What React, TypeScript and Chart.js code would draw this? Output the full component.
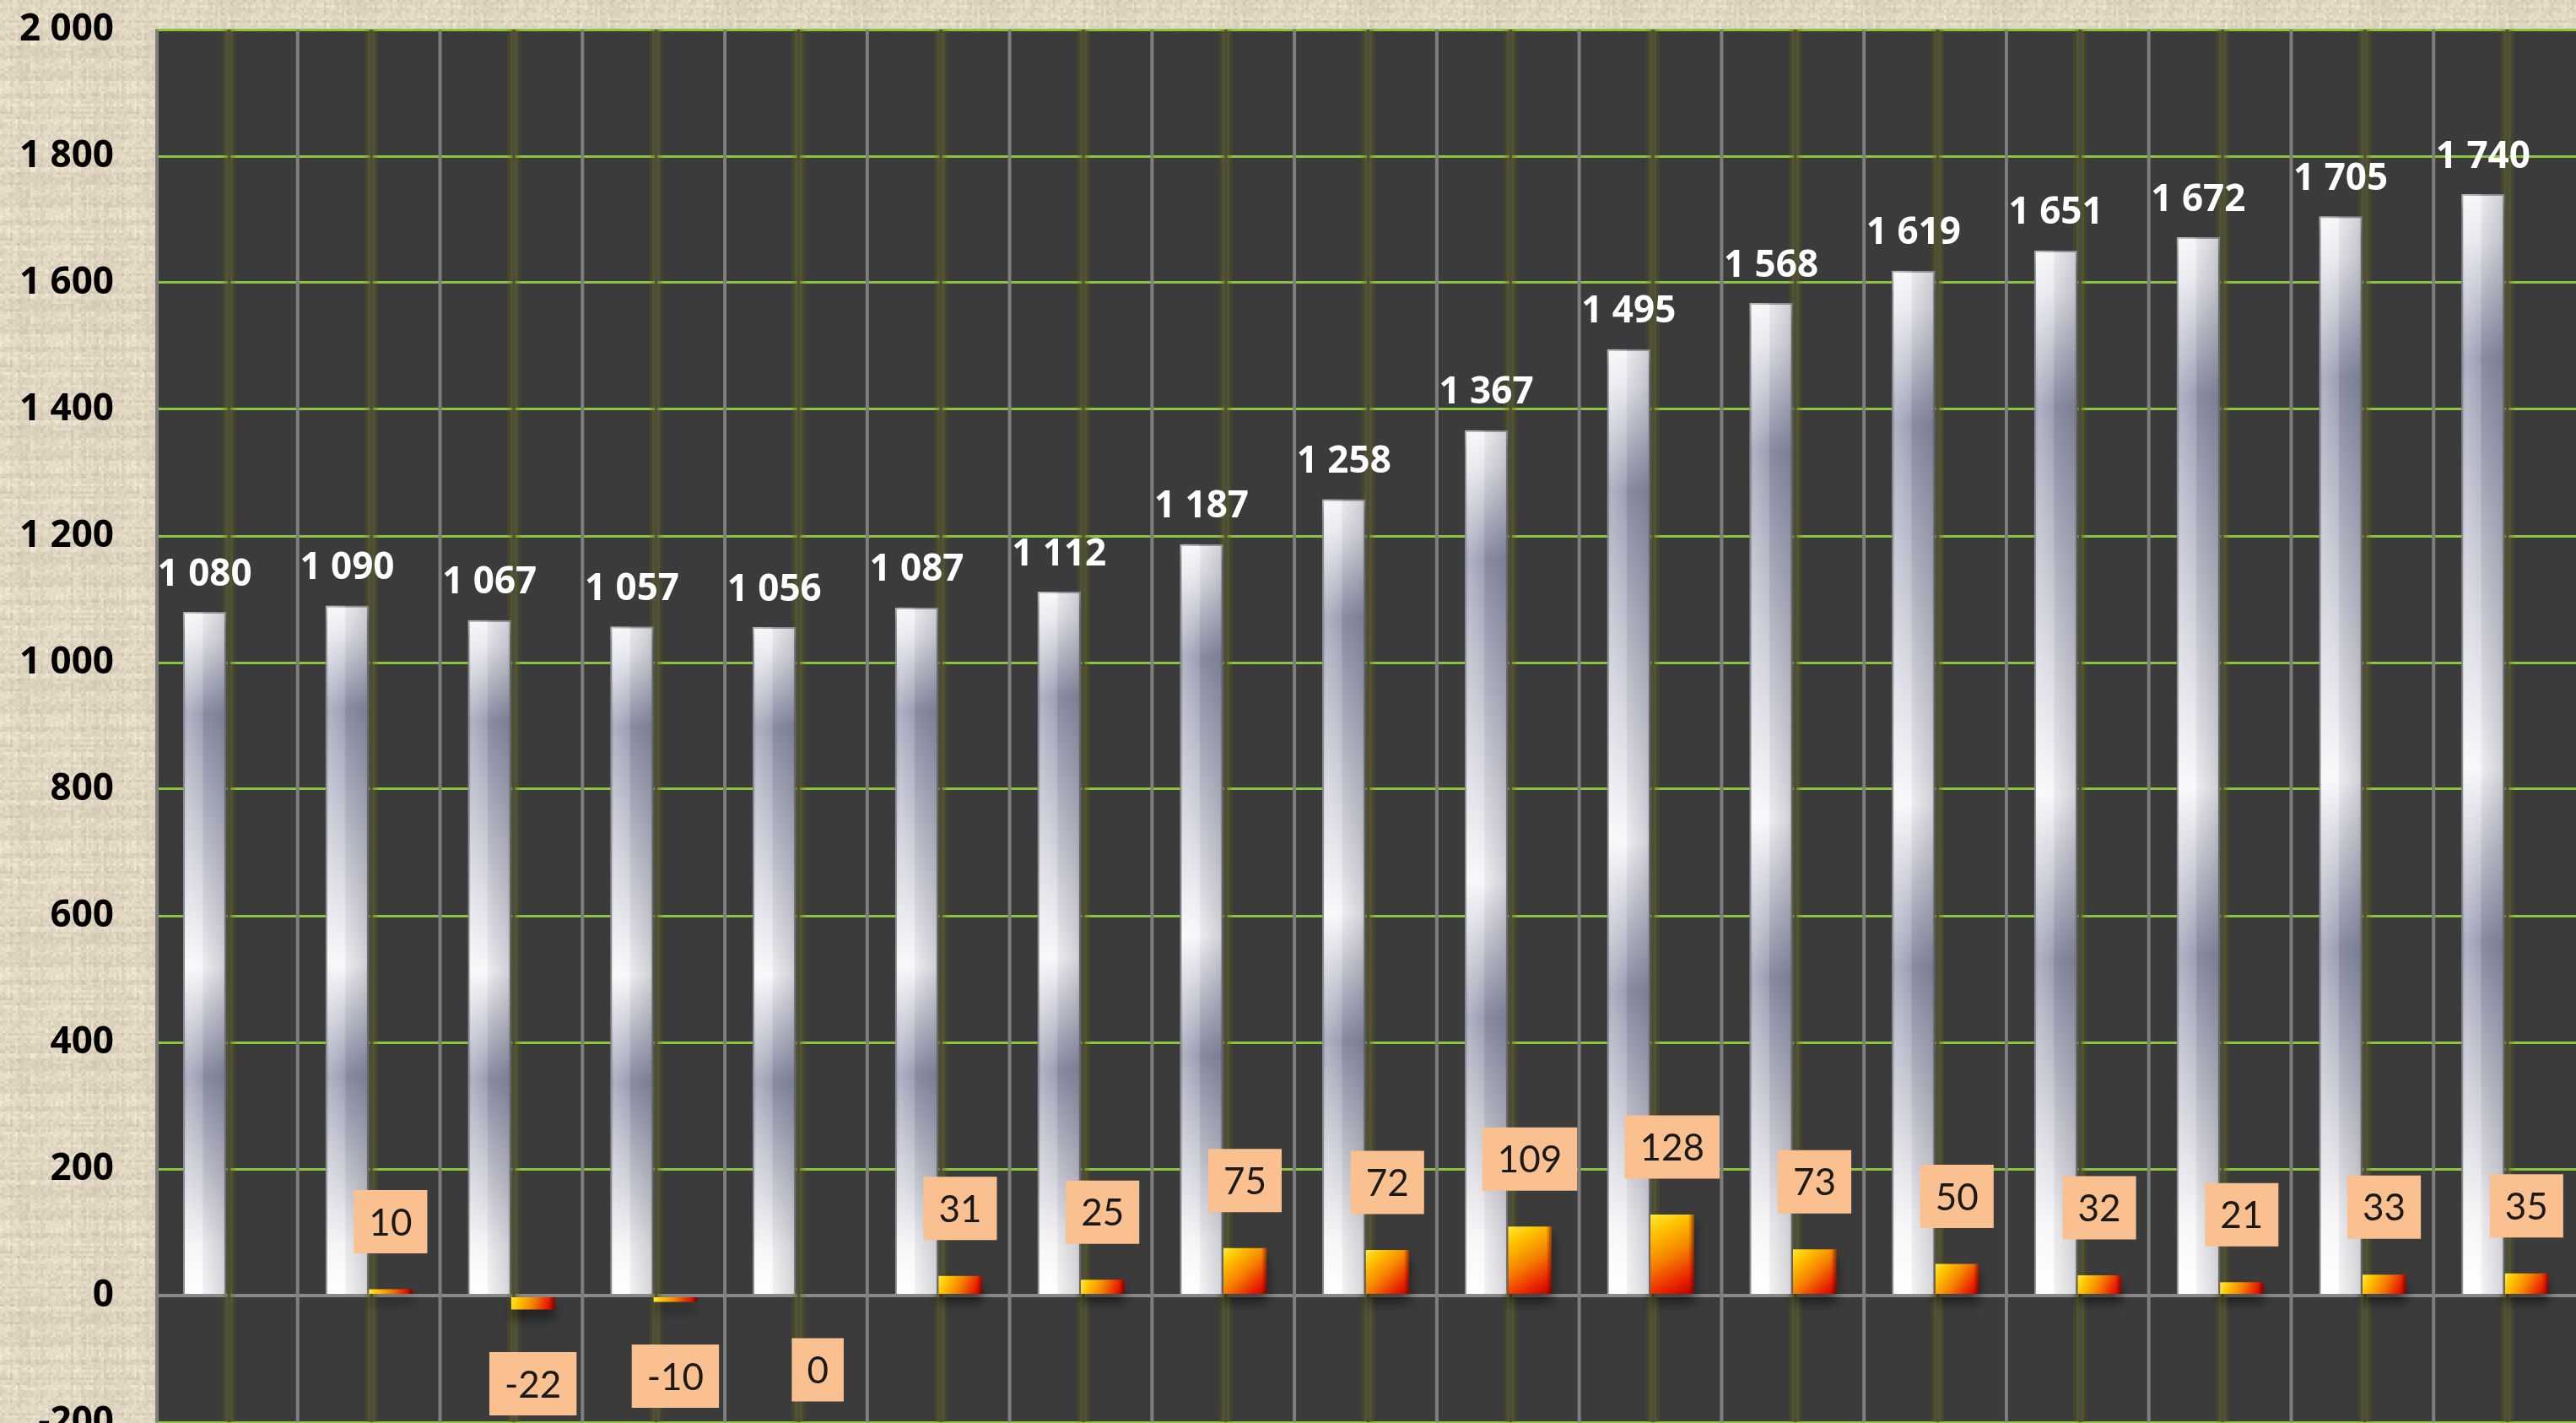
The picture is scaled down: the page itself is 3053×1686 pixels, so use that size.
import React, { useEffect, useRef } from 'react';
import { Chart, registerables } from 'chart.js';

Chart.register(...registerables);

// ---- data ----
const categories = ['1', '2', '3', '4', '5', '6', '7', '8', '9', '10', '11', '12', '13', '14', '15', '16', '17'];
const totals = [1080, 1090, 1067, 1057, 1056, 1087, 1112, 1187, 1258, 1367, 1495, 1568, 1619, 1651, 1672, 1705, 1740];
const changes: (number | null)[] = [null, 10, -22, -10, 0, 31, 25, 75, 72, 109, 128, 73, 50, 32, 21, 33, 35];
const yMin = -200;
const yMax = 2000;
const yStep = 200;

// ---- layout ----
const W = 3053;
const H = 1740;
const VIEW_H = 1686;
const CAT_PCT = 0.61;

const fmt = (v: number) => {
  const s = String(Math.abs(v)).replace(/\B(?=(\d{3})+(?!\d))/g, ' ');
  return v < 0 ? '-' + s : s;
};

let linenCache: HTMLCanvasElement | null = null;
function getLinen(): HTMLCanvasElement {
  if (linenCache) return linenCache;
  const c = document.createElement('canvas');
  c.width = 150;
  c.height = 150;
  const g = c.getContext('2d')!;
  const hash = (x: number, y: number) => {
    const s = Math.sin(x * 127.1 + y * 311.7) * 43758.5453;
    return s - Math.floor(s);
  };
  for (let y = 0; y < 150; y += 3) {
    for (let x = 0; x < 150; x += 3) {
      const v = 0.45 * hash(x, y) + 0.3 * hash(1, y) + 0.25 * hash(x, 1);
      const l = -24 + v * 44;
      g.fillStyle = `rgb(${Math.round(226 + l)},${Math.round(215 + l)},${Math.round(194 + l)})`;
      g.fillRect(x, y, 3, 3);
    }
  }
  linenCache = c;
  return c;
}

const decorPlugin = {
  id: 'decor',
  beforeDraw(chart: any) {
    const { ctx, chartArea: a } = chart;
    ctx.save();
    const pat = ctx.createPattern(getLinen(), 'repeat');
    ctx.fillStyle = pat || '#e0d5bf';
    ctx.fillRect(0, 0, chart.width, chart.height);
    ctx.fillStyle = '#3b3b3b';
    ctx.fillRect(a.left, a.top, a.right - a.left, a.bottom - a.top);
    ctx.restore();
  },
  beforeDatasetsDraw(chart: any) {
    const { ctx, chartArea: a, scales } = chart;
    const xs = scales.x;
    const n = categories.length;
    const cw = (a.right - a.left) / n;
    ctx.save();
    // category boundary lines
    ctx.strokeStyle = '#7f7f7f';
    ctx.lineWidth = 4;
    for (let i = 0; i < n; i++) {
      const bx = Math.max(a.left + 2, xs.getPixelForValue(i) - cw / 2);
      ctx.beginPath();
      ctx.moveTo(bx, a.top);
      ctx.lineTo(bx, a.bottom);
      ctx.stroke();
    }
    // glowing center lines
    for (let i = 0; i < n; i++) {
      const cx = xs.getPixelForValue(i) + 3;
      const strokes: [number, string][] = [
        [16, 'rgba(100,100,20,0.22)'],
        [9, 'rgba(110,110,30,0.38)'],
        [3, '#4c4c44'],
      ];
      for (const [w, col] of strokes) {
        ctx.strokeStyle = col;
        ctx.lineWidth = w;
        ctx.beginPath();
        ctx.moveTo(cx, a.top);
        ctx.lineTo(cx, a.bottom);
        ctx.stroke();
      }
    }
    ctx.restore();
    // shadow for bars
    ctx.save();
    ctx.shadowColor = 'rgba(0,0,0,0.55)';
    ctx.shadowBlur = 14;
    ctx.shadowOffsetY = 10;
  },
  afterDatasetsDraw(chart: any) {
    const { ctx } = chart;
    ctx.restore();
    const m0 = chart.getDatasetMeta(0);
    const m1 = chart.getDatasetMeta(1);
    ctx.save();
    // silver bar bevel overlay
    m0.data.forEach((el: any) => {
      const left = el.x - el.width / 2;
      const top = Math.min(el.y, el.base);
      const h = Math.abs(el.base - el.y);
      const g = ctx.createLinearGradient(left, 0, left + el.width, 0);
      g.addColorStop(0, 'rgba(255,255,255,0.10)');
      g.addColorStop(0.1, 'rgba(255,255,255,0.30)');
      g.addColorStop(0.45, 'rgba(255,255,255,0.12)');
      g.addColorStop(0.47, 'rgba(50,52,70,0.06)');
      g.addColorStop(0.9, 'rgba(50,52,70,0.18)');
      g.addColorStop(1, 'rgba(50,52,70,0.28)');
      ctx.fillStyle = g;
      ctx.fillRect(left, top, el.width, h);
    });
    // red bar right edge
    m1.data.forEach((el: any, i: number) => {
      if (changes[i] === null) return;
      const left = el.x - el.width / 2;
      const top = Math.min(el.y, el.base);
      const h = Math.abs(el.base - el.y);
      const g = ctx.createLinearGradient(left, 0, left + el.width, 0);
      g.addColorStop(0, 'rgba(120,0,0,0)');
      g.addColorStop(0.88, 'rgba(120,0,0,0)');
      g.addColorStop(1, 'rgba(90,0,0,0.6)');
      ctx.fillStyle = g;
      ctx.fillRect(left, top, el.width, h);
    });
    // silver labels
    ctx.font = 'bold 44px "Open Sans"';
    ctx.fillStyle = '#ffffff';
    ctx.textAlign = 'center';
    ctx.textBaseline = 'middle';
    m0.data.forEach((el: any, i: number) => {
      ctx.fillText(fmt(totals[i]), el.x, Math.min(el.y, el.base) - 44);
    });
    // change labels
    ctx.font = '44px Lato';
    m1.data.forEach((el: any, i: number) => {
      const v = changes[i];
      if (v === null) return;
      const txt = fmt(v);
      const tw = ctx.measureText(txt).width;
      const bw = tw + 36;
      const bh = 75;
      const cy = v > 0 ? Math.min(el.y, el.base) - 80 : Math.max(el.y, el.base) + 88;
      ctx.fillStyle = '#fac090';
      ctx.fillRect(el.x - bw / 2, cy - bh / 2, bw, bh);
      ctx.fillStyle = '#1a1a1a';
      ctx.fillText(txt, el.x, cy + 2);
    });
    ctx.restore();
  },
};

export default function App() {
  const ref = useRef<HTMLCanvasElement>(null);
  useEffect(() => {
    const canvas = ref.current!;
    const silverFill = (c: any) => {
      const chart = c.chart;
      if (!chart.chartArea || c.type !== 'data') return '#d8d9e0';
      const ys = chart.scales.y;
      const top = ys.getPixelForValue(c.raw);
      const bot = ys.getPixelForValue(0);
      const g = chart.ctx.createLinearGradient(0, top, 0, bot);
      g.addColorStop(0, '#f6f6f8');
      g.addColorStop(0.04, '#e4e5eb');
      g.addColorStop(0.15, '#8d91a7');
      g.addColorStop(0.52, '#f7f7fa');
      g.addColorStop(0.68, '#8c90a6');
      g.addColorStop(0.93, '#f4f4f6');
      g.addColorStop(1, '#ffffff');
      return g;
    };
    const redFill = (c: any) => {
      const chart = c.chart;
      if (!chart.chartArea || c.type !== 'data' || c.raw === null) return '#f07010';
      const ys = chart.scales.y;
      const xs = chart.scales.x;
      const w = ((xs.right - xs.left) / categories.length) * CAT_PCT / 2;
      const left = xs.getPixelForValue(c.dataIndex);
      const p1 = ys.getPixelForValue(c.raw);
      const p0 = ys.getPixelForValue(0);
      const top = Math.min(p0, p1);
      const bot = Math.max(p0, p1, top + 1);
      const g = chart.ctx.createLinearGradient(left, top, left + w, bot);
      g.addColorStop(0, '#ffe93a');
      g.addColorStop(0.2, '#ffc400');
      g.addColorStop(0.5, '#f58200');
      g.addColorStop(0.8, '#ea2200');
      g.addColorStop(1, '#b00000');
      return g;
    };
    const chart = new Chart(canvas, {
      type: 'bar',
      data: {
        labels: categories,
        datasets: [
          {
            label: 'Total',
            data: totals,
            backgroundColor: silverFill,
            borderColor: '#9fa1ab',
            borderWidth: 2,
            categoryPercentage: CAT_PCT,
            barPercentage: 1,
          },
          {
            label: 'Change',
            data: changes,
            backgroundColor: redFill,
            borderWidth: 0,
            categoryPercentage: CAT_PCT,
            barPercentage: 1,
          },
        ],
      },
      options: {
        responsive: false,
        animation: false,
        devicePixelRatio: 1,
        layout: { padding: { top: 35, right: 0, bottom: 55, left: 0 } },
        plugins: { legend: { display: false }, tooltip: { enabled: false } },
        scales: {
          x: { display: false, offset: true, grid: { display: false } },
          y: {
            min: yMin,
            max: yMax,
            border: { display: false },
            grid: {
              drawTicks: false,
              color: (c: any) => (c.tick && c.tick.value === 0 ? '#8a8a8a' : '#8cc63f'),
              lineWidth: (c: any) => (c.tick && c.tick.value === 0 ? 4 : 3),
            },
            ticks: {
              stepSize: yStep,
              padding: 49,
              color: '#000000',
              font: { family: '"Open Sans"', weight: 'bold', size: 44 },
              callback: (v: any) => fmt(Number(v)),
            },
            afterFit: (s: any) => {
              s.width = 184;
              s.paddingTop = 0;
              s.paddingBottom = 0;
            },
          },
        },
      } as any,
      plugins: [decorPlugin],
    });
    return () => chart.destroy();
  }, []);
  return (
    <div
      style={{
        position: 'fixed',
        left: 0,
        top: 0,
        width: W,
        height: VIEW_H,
        overflow: 'hidden',
        background: '#e0d5bf',
      }}
    >
      <canvas ref={ref} width={W} height={H} style={{ display: 'block', width: W, height: H }} />
    </div>
  );
}
